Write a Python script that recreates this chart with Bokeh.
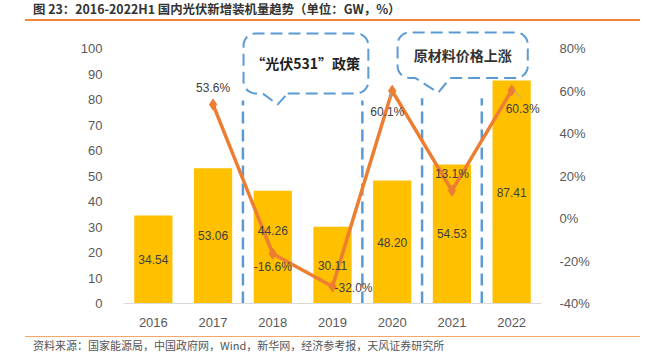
from bokeh.plotting import figure
from bokeh.models import (Range1d, LinearAxis, FixedTicker, PrintfTickFormatter,
                          ColumnDataSource, Div)
from bokeh.layouts import column
from bokeh.core.properties import value
from bokeh.embed import file_html
from bokeh.resources import INLINE
import math

# ---------------- data ----------------
years = ["2016", "2017", "2018", "2019", "2020", "2021", "2022"]
capacity = [34.54, 53.06, 44.26, 30.11, 48.20, 54.53, 87.41]          # GW
growth_years = ["2017", "2018", "2019", "2020", "2021", "2022"]
growth = [53.6, -16.6, -32.0, 60.1, 13.1, 60.3]                        # %
left_ticks = [0, 10, 20, 30, 40, 50, 60, 70, 80, 90, 100]
right_ticks = [-40, -20, 0, 20, 40, 60, 80]
title_text = "图 23：2016-2022H1 国内光伏新增装机量趋势（单位：GW，%）"
source_text = "资料来源：国家能源局，中国政府网，Wind，新华网，经济参考报，天风证券研究所"
callout1 = "“光伏531”政策"
callout2 = "原材料价格上涨"

# ---------------- geometry ----------------
W = 646
FIG_H = 310
FL, FR = 123, 541          # frame left / right (page px)
FT, FB = 30, 303           # frame top / bottom (page px)
TITLE_H = 22
SX = (FR - FL) / 7.0
SY = 2.55
YMAX = (FB - FT) / SY
Y2MIN = -40.0
Y2MAX = Y2MIN + 1.2 * YMAX

FONT = "Liberation Sans"
CJK = "Noto Sans CJK SC"

xi = list(range(len(years)))
gx = [years.index(y) for y in growth_years]

p = figure(width=W, height=FIG_H, output_backend="svg", toolbar_location=None,
           x_range=Range1d(-0.5, 6.5), y_range=Range1d(0, YMAX),
           min_border_left=FL, min_border_right=W - FR,
           min_border_top=FT - TITLE_H, min_border_bottom=FIG_H - (FB - TITLE_H))
p.extra_y_ranges = {"pct": Range1d(Y2MIN, Y2MAX)}
p.outline_line_color = None
p.xgrid.visible = False
p.ygrid.visible = False
p.background_fill_color = "white"
p.border_fill_color = "white"

# axes
p.xaxis.ticker = FixedTicker(ticks=xi)
p.xaxis.major_label_overrides = {i: y for i, y in enumerate(years)}
p.xaxis.axis_line_color = "#D9D9D9"
p.xaxis.major_tick_line_color = None
p.xaxis.minor_tick_line_color = None
p.xaxis.major_label_standoff = 8
p.yaxis.ticker = FixedTicker(ticks=left_ticks)
p.yaxis.axis_line_color = None
p.yaxis.major_tick_line_color = None
p.yaxis.minor_tick_line_color = None
p.yaxis.major_label_standoff = 15

ax2 = LinearAxis(y_range_name="pct", ticker=FixedTicker(ticks=right_ticks),
                 formatter=PrintfTickFormatter(format="%d%%"))
ax2.axis_line_color = None
ax2.major_tick_line_color = None
ax2.minor_tick_line_color = None
ax2.major_label_standoff = 12
p.add_layout(ax2, "right")

for ax in [p.xaxis[0], p.yaxis[0], ax2]:
    ax.major_label_text_font = FONT
    ax.major_label_text_font_size = "13px"
    ax.major_label_text_color = "#595959"

# bars
bsrc = ColumnDataSource(dict(x=xi, top=capacity, mid=[v / 2 for v in capacity],
                             lab=[f"{v:.2f}" for v in capacity],
                             yoff=[0, 0, -17, 0, 0, 0, 0]))
p.vbar(x="x", top="top", width=0.64, source=bsrc, color="#FFC000", line_color=None)

# dashed separators
p.segment(x0=[1.5, 3.5, 4.5, 5.5], y0=[0, 0, 0, 0], x1=[1.5, 3.5, 4.5, 5.5],
          y1=[79.6, 79.6, 80.5, 80.5], line_color="#5B9BD5", line_width=2.5,
          line_dash="12 6")

# callouts
def to_px(x, y):
    return FL + (x + 0.5) * SX, FB - y * SY

def to_data(px, py):
    return (px - FL) / SX - 0.5, (FB - py) / SY

def callout_path(x0, x1, y0, y1, pl, pr, tip, r=12):
    L, B = to_px(x0, y0)
    R, T = to_px(x1, y1)
    PL = to_px(pl, y0)[0]
    PR = to_px(pr, y0)[0]
    TX, TY = to_px(*tip)
    pts = [(PR, B), (R - r, B)]
    def arc(cx, cy, a0, a1):
        out = []
        for k in range(1, 9):
            a = math.radians(a0 + (a1 - a0) * k / 8)
            out.append((cx + r * math.cos(a), cy + r * math.sin(a)))
        return out
    pts += arc(R - r, B - r, 90, 0)
    pts += [(R, T + r)]
    pts += arc(R - r, T + r, 0, -90)
    pts += [(L + r, T)]
    pts += arc(L + r, T + r, -90, -180)
    pts += [(L, B - r)]
    pts += arc(L + r, B - r, 180, 90)
    pts += [(PL, B), (TX, TY), (PR, B)]
    d = [to_data(a, b) for a, b in pts]
    return [q[0] for q in d], [q[1] for q in d]

cx1, cy1 = callout_path(1.51, 3.60, 82.4, 105.9, 1.83, 2.25, (2.08, 78.0))
cx2, cy2 = callout_path(4.09, 6.27, 88.4, 106.3, 4.39, 4.97, (4.77, 82.7))
for cx, cy in [(cx1, cy1), (cx2, cy2)]:
    p.line(cx, cy, line_color="#5B9BD5", line_width=2, line_dash="12 6")

p.text(x=[2.55], y=[94.3], text=[callout1], text_font=value(CJK),
       text_font_size="14px", text_font_style="bold", text_color="#222222",
       text_align="center", text_baseline="middle")
p.text(x=[5.18], y=[97.3], text=[callout2], text_font=value(CJK),
       text_font_size="14px", text_font_style="bold", text_color="#333333",
       text_align="center", text_baseline="middle")

# growth line
gsrc = ColumnDataSource(dict(x=gx, y=growth, lab=[f"{v:.1f}%" for v in growth],
                             xo=[0, 0, 2, -5, 0, 11], yo=[-17, 13, 1, 21, -17, 19],
                             al=["center", "center", "left", "center", "center", "center"]))
p.line(x="x", y="y", source=gsrc, y_range_name="pct", line_color="#ED7D31", line_width=3.5)
p.scatter(x="x", y="y", source=gsrc, y_range_name="pct", marker="diamond", size=11,
          fill_color="#ED7D31", line_color="#ED7D31")

# small leader lines for 2020 and 2022 labels
ld_idx = [growth_years.index("2020"), growth_years.index("2022")]
ld_dx = [(-1 / SX, -3 / SX), (1 / SX, 10 / SX)]
ld_dy = [(-2, -10), (1, -8)]   # pixels (down negative in px -> converted)
p.segment(x0=[gx[i] + d[0] for i, d in zip(ld_idx, ld_dx)],
          y0=[growth[i] + dy[0] * 1.2 / SY for i, dy in zip(ld_idx, ld_dy)],
          x1=[gx[i] + d[1] for i, d in zip(ld_idx, ld_dx)],
          y1=[growth[i] + dy[1] * 1.2 / SY for i, dy in zip(ld_idx, ld_dy)],
          y_range_name="pct", line_color="#A6A6A6", line_width=1)

# labels
p.text(x="x", y="mid", text="lab", source=bsrc, y_offset="yoff",
       text_font=value(FONT), text_font_size="12px", text_color="#404040",
       text_align="center", text_baseline="middle")
p.text(x="x", y="y", text="lab", source=gsrc, y_range_name="pct",
       x_offset="xo", y_offset="yo", text_align="al",
       text_font=value(FONT), text_font_size="12px", text_color="#404040",
       text_baseline="middle")

title_div = Div(width=W, height=TITLE_H, margin=(0, 0, 0, 0), text=(
    f'<div style="position:relative;width:{W}px;height:{TITLE_H}px;">'
    f'<div style="position:absolute;left:33px;top:1px;font-family:\'{CJK}\';font-weight:bold;'
    f'font-size:12.4px;color:#333333;white-space:nowrap;line-height:16px;">{title_text}</div>'
    f'<div style="position:absolute;left:25px;top:19px;width:615px;height:2px;background:#F0883A;"></div>'
    f'</div>'))
foot_div = Div(width=W, height=354 - TITLE_H - FIG_H, margin=(0, 0, 0, 0), text=(
    f'<div style="position:relative;width:{W}px;height:22px;">'
    f'<div style="position:absolute;left:25px;top:4px;width:615px;height:1px;background:#F3A66C;"></div>'
    f'<div style="position:absolute;left:33px;top:6px;font-family:\'{CJK}\';'
    f'font-size:11px;color:#555555;white-space:nowrap;line-height:14px;">{source_text}</div>'
    f'</div>'))

layout = column(title_div, p, foot_div, spacing=0)
open("out.html", "w").write(file_html(layout, INLINE))
